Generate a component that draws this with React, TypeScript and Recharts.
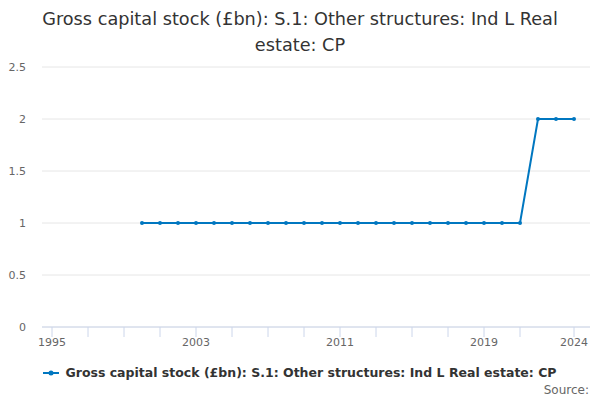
import React from 'react';
import {
    LineChart,
    Line,
    XAxis,
    YAxis,
    CartesianGrid,
    Legend
} from 'recharts';

const TITLE = 'Gross capital stock (£bn): S.1: Other structures: Ind L Real estate: CP';
const SERIES_NAME = 'Gross capital stock (£bn): S.1: Other structures: Ind L Real estate: CP';

const YEARS = [
    2000, 2001, 2002, 2003, 2004, 2005, 2006, 2007, 2008, 2009, 2010, 2011,
    2012, 2013, 2014, 2015, 2016, 2017, 2018, 2019, 2020, 2021, 2022, 2023, 2024
];
const VALUES = [
    1, 1, 1, 1, 1, 1, 1, 1, 1, 1, 1, 1,
    1, 1, 1, 1, 1, 1, 1, 1, 1, 1, 2, 2, 2
];

const X_TICKS = [1995, 1997, 1999, 2001, 2003, 2005, 2007, 2009, 2011, 2013, 2015, 2017, 2019, 2021, 2024];
const X_LABELS = [1995, 2003, 2011, 2019, 2024];
const Y_TICKS = [0, 0.5, 1, 1.5, 2, 2.5];

const LINE_COLOR = '#0077c0';
const FONT = '"DejaVu Sans", sans-serif';

const chartData = YEARS.map((year, i) => ({ year, value: VALUES[i] }));

const XTick = (props: any) => {
    const { x, y, payload } = props;
    if (!X_LABELS.includes(payload.value)) return null;
    return (
        <text x={x} y={y} dy={9} textAnchor="middle" fontSize={11} fill="#666" fontFamily={FONT}>
            {payload.value}
        </text>
    );
};

const LegendContent = () => (
    <div style={{ display: 'flex', alignItems: 'center', justifyContent: 'center', fontFamily: FONT }}>
        <svg width={16} height={10} style={{ marginRight: 6 }}>
            <line x1={0} y1={5} x2={16} y2={5} stroke={LINE_COLOR} strokeWidth={2} />
            <circle cx={8} cy={5} r={2.5} fill={LINE_COLOR} />
        </svg>
        <span style={{ fontSize: 12.5, fontWeight: 'bold', color: '#333' }}>{SERIES_NAME}</span>
    </div>
);

const App: React.FC = () => {
    return (
        <div style={{ position: 'absolute', left: 0, top: 0, width: 600, height: 400, background: '#fff', fontFamily: FONT }}>
            <div style={{
                position: 'absolute', left: 30, top: 6, width: 540, textAlign: 'center',
                fontSize: 17.7, lineHeight: '26px', color: '#333'
            }}>
                {TITLE}
            </div>
            <LineChart
                width={600}
                height={400}
                data={chartData}
                margin={{ top: 67, right: 10, bottom: 28, left: 0 }}
            >
                <CartesianGrid vertical={false} stroke="#e6e6e6" />
                <XAxis
                    dataKey="year"
                    type="number"
                    domain={[1995, 2024]}
                    ticks={X_TICKS}
                    interval={0}
                    padding={{ left: 10, right: 16 }}
                    stroke="#ccd6eb"
                    tickSize={10}
                    tickMargin={0}
                    tick={<XTick />}
                    height={30}
                />
                <YAxis
                    domain={[0, 2.5]}
                    ticks={Y_TICKS}
                    axisLine={false}
                    tickLine={false}
                    tickSize={0}
                    tickMargin={16}
                    width={42}
                    tick={{ fontSize: 11, fill: '#666', fontFamily: FONT }}
                />
                <Legend
                    verticalAlign="bottom"
                    align="center"
                    content={<LegendContent />}
                    wrapperStyle={{ left: 0, top: 365, width: 600 }}
                />
                <Line
                    type="linear"
                    dataKey="value"
                    stroke={LINE_COLOR}
                    strokeWidth={2}
                    dot={{ r: 2, fill: LINE_COLOR, stroke: LINE_COLOR, strokeWidth: 0 }}
                    isAnimationActive={false}
                />
            </LineChart>
            <div style={{ position: 'absolute', right: 11, top: 383, fontSize: 12, color: '#666' }}>
                Source:
            </div>
        </div>
    );
};

export default App;
